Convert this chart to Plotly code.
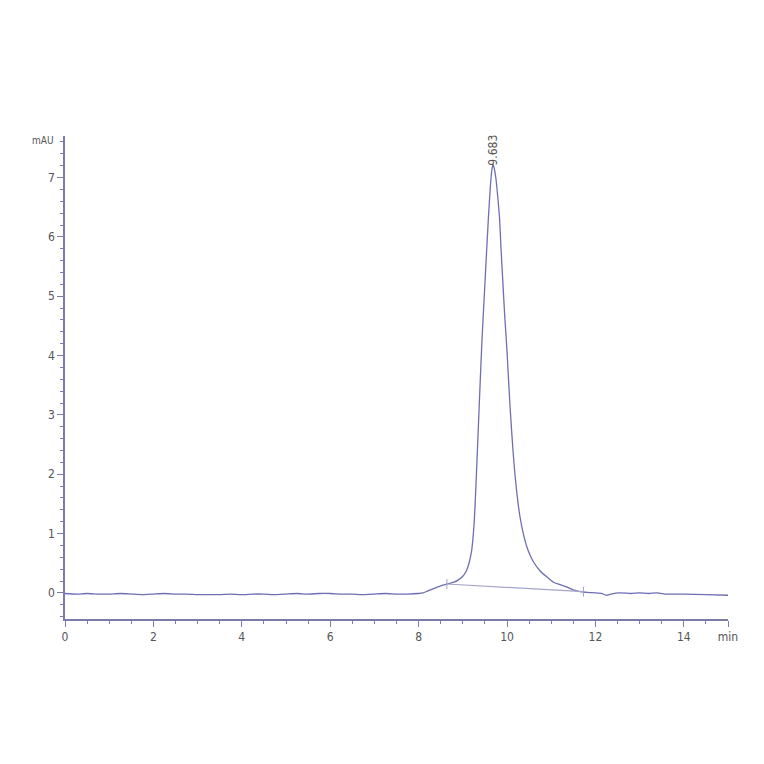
import plotly.graph_objects as go

tempo = [0.0, 0.25, 0.5, 0.75, 1.0, 1.25, 1.5, 1.75, 2.0, 2.25, 2.5, 2.75,
         3.0, 3.25, 3.5, 3.75, 4.0, 4.25, 4.5, 4.75, 5.0, 5.25, 5.5, 5.75,
         6.0, 6.25, 6.5, 6.75, 7.0, 7.25, 7.5, 7.75, 8.0, 8.1, 8.2, 8.3,
         8.4, 8.5, 8.6, 8.7, 8.8, 8.9, 9.0, 9.08, 9.14, 9.2, 9.23, 9.26,
         9.3, 9.37, 9.43, 9.5, 9.58, 9.63, 9.66, 9.683, 9.71, 9.75, 9.79,
         9.83, 9.865, 9.905, 9.95, 9.995, 10.07, 10.18, 10.29, 10.39, 10.48,
         10.6, 10.75, 10.9, 11.05, 11.2, 11.35, 11.5, 11.65, 11.8, 12.0,
         12.14, 12.25, 12.35, 12.55, 12.8, 13.0, 13.2, 13.4, 13.6, 13.8,
         14.0, 14.5, 15.0]
sinal = [-0.01, -0.02, -0.01, -0.02, -0.02, -0.01, -0.02, -0.03, -0.02, -0.01,
         -0.02, -0.02, -0.03, -0.03, -0.03, -0.02, -0.03, -0.02, -0.02, -0.03,
         -0.02, -0.01, -0.02, -0.01, -0.01, -0.02, -0.02, -0.03, -0.02, -0.01,
         -0.02, -0.02, -0.01, 0.0, 0.03, 0.06, 0.09, 0.12, 0.14, 0.16, 0.18,
         0.22, 0.28, 0.37, 0.5, 0.71, 0.92, 1.21, 1.85, 3.13, 4.2, 5.21,
         6.33, 6.92, 7.14, 7.22, 7.16, 6.98, 6.68, 6.33, 5.8, 5.25, 4.65,
         4.14, 3.13, 2.0, 1.3, 0.93, 0.71, 0.52, 0.37, 0.27, 0.18, 0.14,
         0.1, 0.05, 0.02, 0.01, 0.0, -0.01, -0.04, -0.02, 0.0, -0.01, 0.0,
         -0.01, 0.0, -0.02, -0.02, -0.02, -0.03, -0.04]

# linha de base da integração
base_t = [8.64, 11.73]
base_y = [0.15, 0.02]

pico_t = 9.683

eixo_x_vals = [0, 2, 4, 6, 8, 10, 12, 14, 15]
eixo_x_txt = ['0', '2', '4', '6', '8', '10', '12', '14', 'min']
eixo_y_vals = [0, 1, 2, 3, 4, 5, 6, 7]

cor_linha = '#6e6eb4'
cor_eixo = '#7c7cab'
cor_texto = '#555555'
fonte = 'DejaVu Sans Condensed, Liberation Sans Narrow, Liberation Sans'

fig = go.Figure()
fig.add_trace(go.Scatter(x=tempo, y=sinal, mode='lines',
                         line=dict(color=cor_linha, width=1.3, shape='spline', smoothing=0.5),
                         hoverinfo='skip'))
fig.add_trace(go.Scatter(x=base_t, y=base_y, mode='lines+markers',
                         line=dict(color='#a4a4cc', width=1.2),
                         marker=dict(symbol='line-ns-open', size=7,
                                     line=dict(color='#8a8ab8', width=1)),
                         hoverinfo='skip'))

fig.add_annotation(x=pico_t, y=7.47, text=str(pico_t), textangle=-90,
                   showarrow=False, xanchor='center', yanchor='middle',
                   font=dict(family=fonte, size=12, color=cor_texto))
fig.add_annotation(x=0, y=7.62, xref='paper', text='mAU', showarrow=False,
                   xanchor='right', yanchor='middle', xshift=-9,
                   font=dict(family=fonte, size=10, color=cor_texto))

fig.update_xaxes(range=[0, 15], tickvals=eixo_x_vals, ticktext=eixo_x_txt,
                 showline=True, linecolor=cor_eixo, linewidth=1.5,
                 ticks='outside', ticklen=6, tickcolor=cor_eixo,
                 minor=dict(dtick=0.5, ticks='outside', ticklen=3, tickcolor=cor_eixo),
                 showgrid=False, zeroline=False,
                 tickfont=dict(family=fonte, size=12, color=cor_texto))
fig.update_yaxes(range=[-0.44, 7.7], tickvals=eixo_y_vals,
                 showline=True, linecolor=cor_eixo, linewidth=1.5,
                 ticks='outside', ticklen=6, tickcolor=cor_eixo,
                 minor=dict(dtick=0.2, ticks='outside', ticklen=3, tickcolor=cor_eixo),
                 showgrid=False, zeroline=False,
                 tickfont=dict(family=fonte, size=12, color=cor_texto))

# a página tem margem de 8px no corpo, por isso as margens são compensadas
fig.update_layout(width=764, height=764, showlegend=False,
                  plot_bgcolor='white', paper_bgcolor='white',
                  margin=dict(l=57, r=44, t=128, b=153))

fig.write_html('out.html')
